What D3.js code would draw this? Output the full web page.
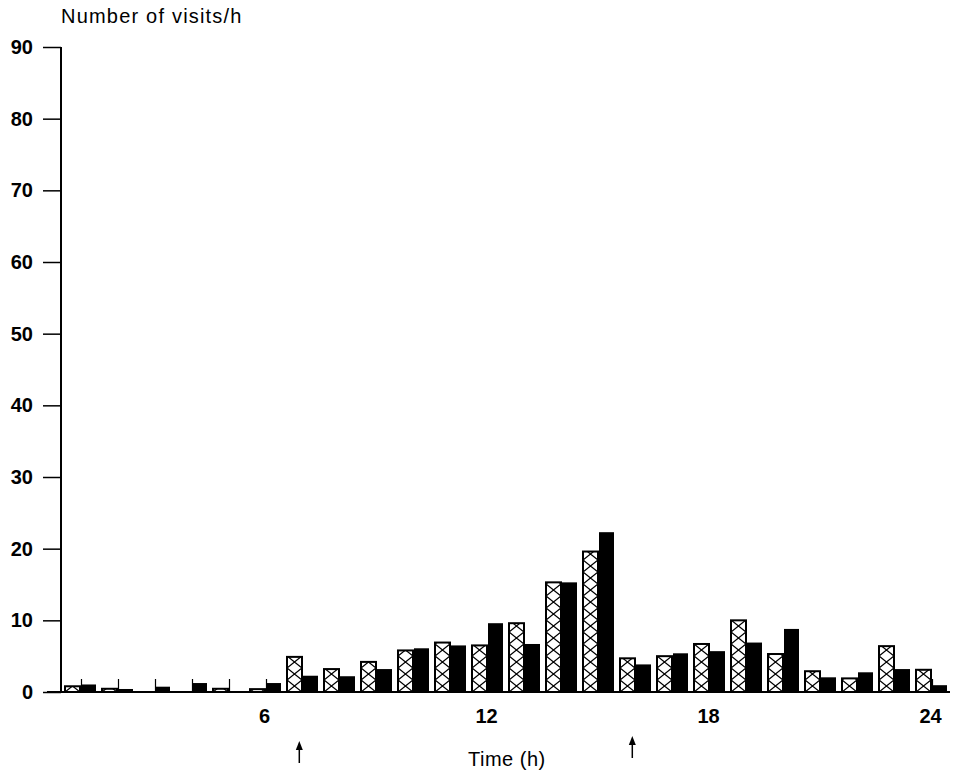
<!DOCTYPE html>
<html><head><meta charset="utf-8">
<script src="https://cdn.jsdelivr.net/npm/d3@7"></script>
<style>body{margin:0;background:#fff}svg{display:block}</style>
</head><body>
<script>
// ---- data ----
const hours = d3.range(1, 25);
const hatchedValues = [0.8, 0.45, 0, 0, 0.45, 0.4, 4.9, 3.2, 4.2, 5.8, 6.9, 6.5, 9.6, 15.3, 19.6, 4.7, 5.0, 6.7, 10.0, 5.3, 2.9, 1.9, 6.4, 3.1];
const blackValues   = [1.05, 0.42, 0.74, 1.25, 0, 1.25, 2.27, 2.2, 3.2, 6.1, 6.5, 9.6, 6.7, 15.3, 22.3, 3.85, 5.4, 5.7, 6.9, 8.8, 2.05, 2.75, 3.2, 0.95];
const yTicks = [0, 10, 20, 30, 40, 50, 60, 70, 80, 90];
const xTickLabels = [6, 12, 18, 24];
const arrowTimes = [6.9, 15.9];
const yLabel = "Number of visits/h";
const xLabel = "Time (h)";

const W = 957, H = 775;
const svg = d3.select("body").append("svg").attr("width", W).attr("height", H);

const x = d3.scaleLinear().domain([1, 24]).range([81, 932]);
const y = d3.scaleLinear().domain([0, 90]).range([692, 47]);
const barW = 15;

const defs = svg.append("defs");

// x axis ticks (pointing up) and labels
const xAxis = d3.axisBottom(x)
  .tickValues(hours)
  .tickSizeInner(-13).tickSizeOuter(0)
  .tickPadding(17)
  .tickFormat(d => xTickLabels.includes(d) ? d : "");
const gx = svg.append("g").attr("transform", `translate(0,${y(0)})`).call(xAxis);
gx.select(".domain").remove();
gx.selectAll(".tick line").attr("stroke", "#000").attr("stroke-width", 1.2);
gx.selectAll(".tick text")
  .attr("font-family", "Liberation Sans, Arial, sans-serif")
  .attr("font-weight", "bold").attr("font-size", 20).attr("fill", "#000")
  .attr("dx", -2);

// hatched bars
hours.forEach((h, i) => {
  const v = hatchedValues[i];
  if (v <= 0) return;
  const bx = x(h) - barW - 1;
  const p = defs.append("pattern")
    .attr("id", "hatch" + i)
    .attr("patternUnits", "userSpaceOnUse")
    .attr("x", bx).attr("y", y(0))
    .attr("width", barW).attr("height", 12);
  p.append("rect").attr("width", barW).attr("height", 12).attr("fill", "#fff");
  p.append("path").attr("d", `M0,0L${barW},12M${barW},0L0,12`)
    .attr("stroke", "#000").attr("stroke-width", 1.3).attr("fill", "none");
});

svg.append("g").selectAll("rect.h")
  .data(hours.map((h, i) => ({h, v: hatchedValues[i], i})).filter(d => d.v > 0))
  .join("rect")
  .attr("x", d => x(d.h) - barW - 1)
  .attr("y", d => y(d.v))
  .attr("width", barW)
  .attr("height", d => y(0) - y(d.v))
  .attr("fill", d => `url(#hatch${d.i})`)
  .attr("stroke", "#000").attr("stroke-width", 2);

// black bars
svg.append("g").selectAll("rect.b")
  .data(hours.map((h, i) => ({h, v: blackValues[i]})).filter(d => d.v > 0))
  .join("rect")
  .attr("x", d => x(d.h))
  .attr("y", d => y(d.v))
  .attr("width", barW)
  .attr("height", d => y(0) - y(d.v))
  .attr("fill", "#000");

// x axis line
svg.append("line").attr("x1", 47).attr("x2", 950).attr("y1", y(0)).attr("y2", y(0))
  .attr("stroke", "#000").attr("stroke-width", 2);

// y axis
const yAxis = d3.axisLeft(y).tickValues(yTicks).tickSize(18).tickPadding(10);
const gy = svg.append("g").attr("transform", "translate(61,0)").call(yAxis);
gy.select(".domain").remove();
gy.selectAll(".tick line").attr("stroke", "#000").attr("stroke-width", 1.5);
gy.selectAll(".tick text")
  .attr("font-family", "Liberation Sans, Arial, sans-serif")
  .attr("font-weight", "bold").attr("font-size", 20).attr("fill", "#000");
svg.append("line").attr("x1", 61).attr("x2", 61).attr("y1", y(90)).attr("y2", y(0))
  .attr("stroke", "#000").attr("stroke-width", 2);

// axis titles
svg.append("text").attr("x", 61).attr("y", 23)
  .attr("font-family", "Liberation Sans, Arial, sans-serif")
  .attr("font-size", 20).attr("letter-spacing", 1.2).attr("fill", "#000")
  .text(yLabel);
svg.append("text").attr("x", 468).attr("y", 766)
  .attr("font-family", "Liberation Sans, Arial, sans-serif")
  .attr("font-size", 20).attr("letter-spacing", 0.5).attr("fill", "#000")
  .text(xLabel);

// arrows
const ga = svg.append("g");
arrowTimes.forEach((t, i) => {
  const ax = x(t);
  const top = i === 0 ? 741 : 736;
  ga.append("line").attr("x1", ax).attr("x2", ax).attr("y1", top + 5).attr("y2", top + 22)
    .attr("stroke", "#000").attr("stroke-width", 1.5);
  ga.append("path").attr("d", `M${ax},${top}L${ax - 3.5},${top + 9}L${ax + 3.5},${top + 9}Z`).attr("fill", "#000");
});
</script>
</body></html>
